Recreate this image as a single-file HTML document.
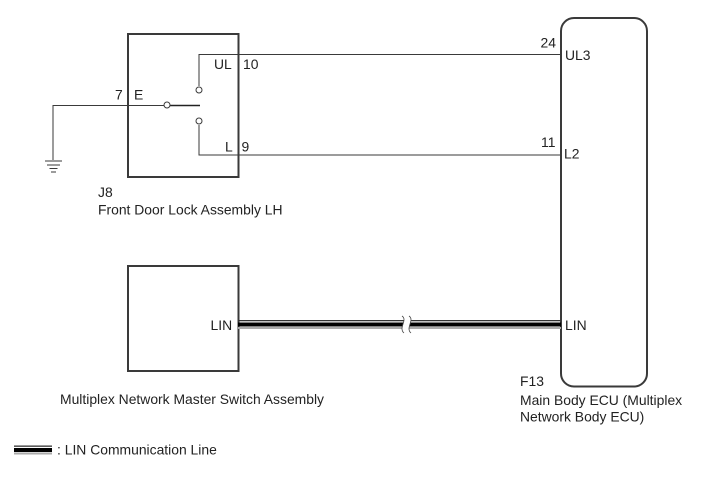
<!DOCTYPE html>
<html><head><meta charset="utf-8"><style>
html,body{margin:0;padding:0;background:#fff}
svg{display:block}
text{font-family:"Liberation Sans",sans-serif;font-size:13.9px;fill:#222}
</style></head><body>
<svg width="713" height="481" viewBox="0 0 713 481" xmlns="http://www.w3.org/2000/svg">
<rect width="713" height="481" fill="#fff"/>
<g fill="none" stroke="#3a3a3a">
<rect x="128" y="34" width="110.500" height="143" stroke-width="2"/>
<rect x="128" y="266" width="110.500" height="105" stroke-width="2"/>
<rect x="561" y="18" width="86" height="368.500" rx="13" ry="13" stroke-width="2"/>
<path d="M199 86V54.500H561M199 125V155H561" stroke-width="1"/>
<path d="M53 160V105.500H164" stroke-width="1"/>
<path d="M170 105.500H200" stroke="#222" stroke-width="1.600"/>
<circle cx="167" cy="105" r="3" stroke-width="1" fill="#fff"/>
<circle cx="199" cy="90" r="3" stroke-width="1" fill="#fff"/>
<circle cx="199" cy="121" r="3" stroke-width="1" fill="#fff"/>
<path d="M45 161H62M47 165H60M49.500 168.500H57.500M51 172H56" stroke-width="1"/>
</g>
<g>
<rect x="238" y="320" width="323" height="1.300" fill="#333"/>
<rect x="238" y="322.500" width="323" height="4" fill="#000"/>
<rect x="238" y="327" width="323" height="2" fill="#aaa"/>
<path d="M402 316C408 320 398 328 404 333L411 333C405 328 415 320 409 316Z" fill="#fff"/>
<path d="M402 316C408 320 398 328 404 333M409 316C415 320 405 328 411 333" fill="none" stroke="#444" stroke-width=".8"/>
<rect x="14" y="445.500" width="38" height="1.300" fill="#333"/>
<rect x="14" y="448" width="38" height="4" fill="#000"/>
<rect x="14" y="452.500" width="38" height="2" fill="#aaa"/>
</g>
<text x="115" y="99.500">7</text>
<text x="134" y="99.500">E</text>
<text x="214" y="69">UL</text>
<text x="243" y="69">10</text>
<text x="225" y="151.500">L</text>
<text x="241.500" y="151.500">9</text>
<text x="98" y="197">J8</text>
<text x="98" y="214.500">Front Door Lock Assembly LH</text>
<text x="210.500" y="330">LIN</text>
<text x="60" y="404">Multiplex Network Master Switch Assembly</text>
<text x="540.500" y="47.500">24</text>
<text x="565" y="60">UL3</text>
<text x="541" y="147">11</text>
<text x="564" y="158.500">L2</text>
<text x="565" y="330">LIN</text>
<text x="520" y="386">F13</text>
<text x="520" y="405">Main Body ECU (Multiplex</text>
<text x="520" y="421.500">Network Body ECU)</text>
<text x="57" y="454.500">: LIN Communication Line</text>
</svg>
</body></html>
